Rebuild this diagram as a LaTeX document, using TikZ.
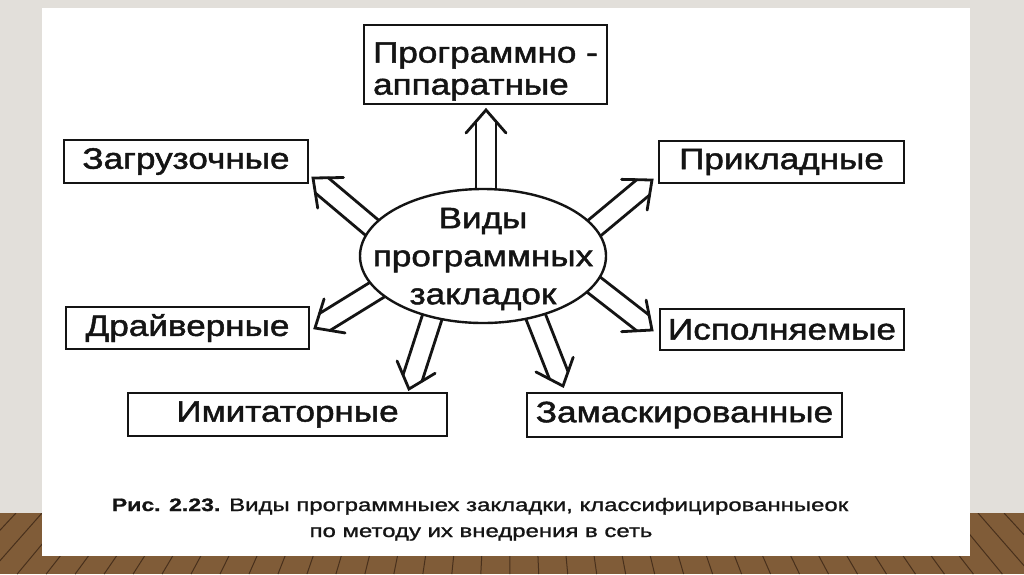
\documentclass[tikz,border=0pt]{standalone}
\usepackage{fontspec}
\usetikzlibrary{shapes.geometric,calc}
\newfontfamily\labfont[FakeStretch=1.19,FakeBold=1.6]{Liberation Sans}
\newfontfamily\capfont[FakeStretch=1.33,FakeBold=1.2]{Liberation Sans}
\newfontfamily\capboldfont[FakeStretch=1.28,FakeBold=1]{Liberation Sans Bold}
\definecolor{wall}{RGB}{226,223,218}
\definecolor{floorc}{RGB}{128,92,56}
\definecolor{plankc}{RGB}{72,48,28}
\definecolor{ink}{RGB}{20,20,20}
\pgfdeclarelayer{back}\pgfdeclarelayer{arrows}
\pgfsetlayers{back,arrows,main}
\newcommand\hollowarrow[2]{%
  \path ($(#1)!-25pt!(#2)$) coordinate (aS) (#2) coordinate (aT);
  \path ($(aT)!11.5pt!(aS)$) coordinate (aM) ($(aT)!23pt!(aS)$) coordinate (aH);
  \draw[arr] ($(aS)!10pt!90:(aT)$) -- ($(aM)!10pt!90:(aT)$);
  \draw[arr] ($(aS)!10pt!-90:(aT)$) -- ($(aM)!10pt!-90:(aT)$);
  \draw[arr] ($(aH)!20pt!90:(aT)$) -- (aT) -- ($(aH)!20pt!-90:(aT)$);
}
\tikzset{
  box/.style={draw=ink, line width=2.6pt, fill=white, inner sep=0pt,
    text=ink, font=\labfont\fontsize{29.5}{32}\selectfont},
  centre/.style={ellipse, draw=ink, line width=2.4pt, fill=white, inner sep=0pt},
  arr/.style={draw=ink, line width=2.8pt, line join=miter, line cap=round},
  captext/.style={text=ink, inner sep=0pt, font=\capfont\fontsize{18}{22}\selectfont},
  plank/.style={draw=plankc, line width=1pt}
}
\begin{document}
\begin{tikzpicture}[x=1pt,y=-1pt]
\useasboundingbox (0,0) rectangle (1024,574);
\begin{pgfonlayer}{back}
  \fill[wall] (0,0) rectangle (1024,574);
  \begin{scope}
    \clip (0,513) rectangle (1024,574);
    \fill[floorc] (0,513) rectangle (1024,574);
    \foreach \x in {-400,-374,...,1430}
      \draw[plank] (\x,513) -- ({512+(\x-512)*1.1144},574);
  \end{scope}
  \fill[white] (42,8) rectangle (970,556);
\end{pgfonlayer}

% central ellipse
\node[centre, minimum width=246pt, minimum height=134pt] (c) at (483,256) {};
\node[text=ink, inner sep=0pt, align=center, font=\labfont\fontsize{29.5}{38}\selectfont] (ct) at ([yshift=-3pt]c.center) {Виды\\программных\\закладок};

% boxes
\node[box, minimum width=243pt, minimum height=79pt] (pa) at (485.5,64.5) {};
\node[text=ink, inner sep=0pt, align=left, font=\labfont\fontsize{29.5}{32}\selectfont] (pat) at ([yshift=-7pt]pa.center) {Программно -\\аппаратные};
\node[box, minimum width=244pt, minimum height=43pt] (zag) at (186,161.5) {Загрузочные};
\node[box, minimum width=245pt, minimum height=42pt] (prik) at (781.5,162) {Прикладные};
\node[box, minimum width=243pt, minimum height=42pt] (drai) at (187.5,328) {Драйверные};
\node[box, minimum width=244pt, minimum height=41pt] (isp) at (782,329.5) {Исполняемые};
\node[box, minimum width=319pt, minimum height=43pt] (imit) at (287.5,414.5) {Имитаторные};
\node[box, minimum width=315pt, minimum height=44pt] (zam) at (684.5,415) {Замаскированные};

% arrow ends
\coordinate (s1) at (486,191); \coordinate (t1) at (486,110);
\coordinate (s2) at (370,226); \coordinate (t2) at (313,178);
\coordinate (s3) at (598,225); \coordinate (t3) at (652,180);
\coordinate (s4) at (375,291); \coordinate (t4) at (315,328);
\coordinate (s5) at (598,288); \coordinate (t5) at (652,330);
\coordinate (s6) at (431,321); \coordinate (t6) at (409,389);
\coordinate (s7) at (537,320); \coordinate (t7) at (563,386);
\begin{pgfonlayer}{arrows}
  \hollowarrow{s1}{t1}
  \hollowarrow{s2}{t2}
  \hollowarrow{s3}{t3}
  \hollowarrow{s4}{t4}
  \hollowarrow{s5}{t5}
  \hollowarrow{s6}{t6}
  \hollowarrow{s7}{t7}
\end{pgfonlayer}

% caption
\node[captext, anchor=base] (cap1) at (480,511) {{\capboldfont\fontsize{18}{22}\selectfont Рис. 2.23.} Виды программныех закладки, классифицированныеок};
\node[captext, anchor=base] (cap2) at (481,537) {по методу их внедрения в сеть};
\end{tikzpicture}
\end{document}
